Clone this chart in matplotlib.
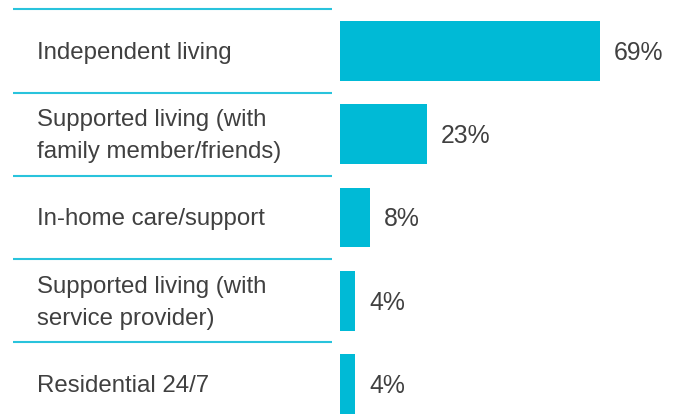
import matplotlib
matplotlib.use("Agg")
import matplotlib.pyplot as plt

categories = ["Independent living",
              "Supported living (with\nfamily member/friends)",
              "In-home care/support",
              "Supported living (with\nservice provider)",
              "Residential 24/7"]
values = [69, 23, 8, 4, 4]
value_labels = ["69%", "23%", "8%", "4%", "4%"]

W, H = 681, 420
fig = plt.figure(figsize=(W / 100, H / 100), dpi=100)
ax = fig.add_axes([0, 0, 1, 1])
ax.axis("off")

scale = 3.768  # px per percent
x0 = 340
row = 83.25
c0 = 51
ax.set_xlim(-x0 / scale, (W - x0) / scale)
ax.set_ylim((H - c0) / row, -c0 / row)

bar_color = "#00BAD6"
text_color = "#404040"
ys = list(range(len(categories)))
ax.barh(ys, values, height=0.72, color=bar_color, left=0)

dy = 2 / row
for y, v, lab, cat in zip(ys, values, value_labels, categories):
    ax.text(v + 14 / scale, y + dy, lab, va="center", ha="left",
            fontsize=17.8, color=text_color, family="Liberation Sans")
    ax.text((37 - x0) / scale, y + dy, cat, va="center", ha="left",
            fontsize=17.3, color=text_color, family="Liberation Sans",
            linespacing=1.6)
    ax.plot([(13 - x0) / scale, (332 - x0) / scale], [y - 0.5, y - 0.5],
            color="#29C3DC", lw=1.5, solid_capstyle="butt")

fig.savefig("out.png", dpi=100)
